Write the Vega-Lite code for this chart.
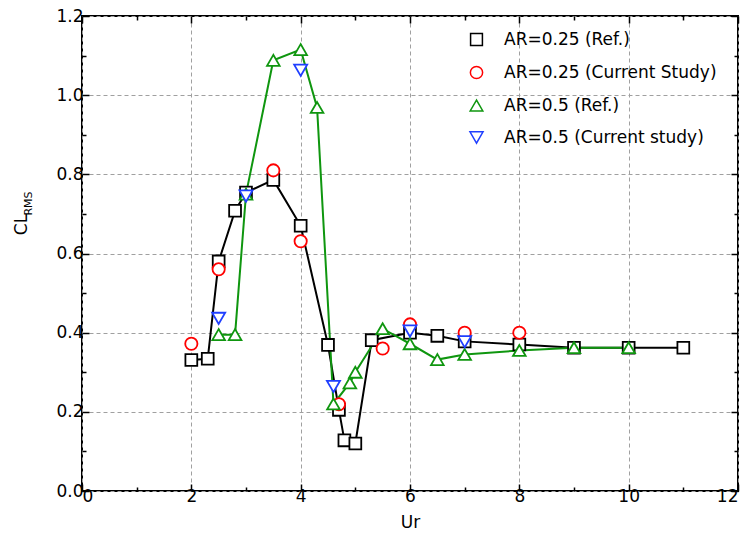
{
  "$schema": "https://vega.github.io/schema/vega-lite/v6.json",
  "width": 656,
  "height": 475,
  "autosize": {"type": "none"},
  "padding": {"left": 82, "top": 16, "right": 14, "bottom": 47},
  "background": "white",
  "config": {
    "font": "DejaVu Sans",
    "view": {"stroke": "black", "strokeWidth": 2},
    "axis": {"labelFont": "DejaVu Sans", "titleFont": "DejaVu Sans", "labelColor": "black", "titleColor": "black", "titleFontWeight": "normal", "domain": false, "tickColor": "black", "tickWidth": 1.5}
  },
  "title": {"text": "RMS", "orient": "left", "frame": "group", "anchor": "middle", "fontSize": 11, "fontWeight": "normal", "font": "DejaVu Sans", "color": "black", "offset": -22, "dx": 50},
  "data": {"values": [
    {"series": "AR=0.25 (Ref.)", "ur": 2.0, "cl": 0.331},
    {"series": "AR=0.25 (Ref.)", "ur": 2.3, "cl": 0.334},
    {"series": "AR=0.25 (Ref.)", "ur": 2.5, "cl": 0.58},
    {"series": "AR=0.25 (Ref.)", "ur": 2.8, "cl": 0.708},
    {"series": "AR=0.25 (Ref.)", "ur": 3.0, "cl": 0.754},
    {"series": "AR=0.25 (Ref.)", "ur": 3.5, "cl": 0.786},
    {"series": "AR=0.25 (Ref.)", "ur": 4.0, "cl": 0.67},
    {"series": "AR=0.25 (Ref.)", "ur": 4.5, "cl": 0.369},
    {"series": "AR=0.25 (Ref.)", "ur": 4.7, "cl": 0.205},
    {"series": "AR=0.25 (Ref.)", "ur": 4.8, "cl": 0.128},
    {"series": "AR=0.25 (Ref.)", "ur": 5.0, "cl": 0.12},
    {"series": "AR=0.25 (Ref.)", "ur": 5.3, "cl": 0.381},
    {"series": "AR=0.25 (Ref.)", "ur": 6.0, "cl": 0.4},
    {"series": "AR=0.25 (Ref.)", "ur": 6.5, "cl": 0.392},
    {"series": "AR=0.25 (Ref.)", "ur": 7.0, "cl": 0.378},
    {"series": "AR=0.25 (Ref.)", "ur": 8.0, "cl": 0.37},
    {"series": "AR=0.25 (Ref.)", "ur": 9.0, "cl": 0.362},
    {"series": "AR=0.25 (Ref.)", "ur": 10.0, "cl": 0.362},
    {"series": "AR=0.25 (Ref.)", "ur": 11.0, "cl": 0.362},
    {"series": "AR=0.25 (Current Study)", "ur": 2.0, "cl": 0.372},
    {"series": "AR=0.25 (Current Study)", "ur": 2.5, "cl": 0.56},
    {"series": "AR=0.25 (Current Study)", "ur": 3.5, "cl": 0.81},
    {"series": "AR=0.25 (Current Study)", "ur": 4.0, "cl": 0.631},
    {"series": "AR=0.25 (Current Study)", "ur": 4.7, "cl": 0.219},
    {"series": "AR=0.25 (Current Study)", "ur": 5.5, "cl": 0.36},
    {"series": "AR=0.25 (Current Study)", "ur": 6.0, "cl": 0.421},
    {"series": "AR=0.25 (Current Study)", "ur": 7.0, "cl": 0.4},
    {"series": "AR=0.25 (Current Study)", "ur": 8.0, "cl": 0.4},
    {"series": "AR=0.5 (Ref.)", "ur": 2.5, "cl": 0.395},
    {"series": "AR=0.5 (Ref.)", "ur": 2.8, "cl": 0.395},
    {"series": "AR=0.5 (Ref.)", "ur": 3.0, "cl": 0.75},
    {"series": "AR=0.5 (Ref.)", "ur": 3.5, "cl": 1.088},
    {"series": "AR=0.5 (Ref.)", "ur": 4.0, "cl": 1.115},
    {"series": "AR=0.5 (Ref.)", "ur": 4.3, "cl": 0.969},
    {"series": "AR=0.5 (Ref.)", "ur": 4.6, "cl": 0.22},
    {"series": "AR=0.5 (Ref.)", "ur": 4.9, "cl": 0.273},
    {"series": "AR=0.5 (Ref.)", "ur": 5.0, "cl": 0.3},
    {"series": "AR=0.5 (Ref.)", "ur": 5.5, "cl": 0.41},
    {"series": "AR=0.5 (Ref.)", "ur": 6.0, "cl": 0.372},
    {"series": "AR=0.5 (Ref.)", "ur": 6.5, "cl": 0.332},
    {"series": "AR=0.5 (Ref.)", "ur": 7.0, "cl": 0.345},
    {"series": "AR=0.5 (Ref.)", "ur": 8.0, "cl": 0.355},
    {"series": "AR=0.5 (Ref.)", "ur": 9.0, "cl": 0.362},
    {"series": "AR=0.5 (Ref.)", "ur": 10.0, "cl": 0.362},
    {"series": "AR=0.5 (Current study)", "ur": 2.5, "cl": 0.436},
    {"series": "AR=0.5 (Current study)", "ur": 3.0, "cl": 0.745},
    {"series": "AR=0.5 (Current study)", "ur": 4.0, "cl": 1.063},
    {"series": "AR=0.5 (Current study)", "ur": 4.6, "cl": 0.264},
    {"series": "AR=0.5 (Current study)", "ur": 6.0, "cl": 0.404},
    {"series": "AR=0.5 (Current study)", "ur": 7.0, "cl": 0.377}
  ]},
  "layer": [
    {
      "layer": [
        {
          "transform": [{"filter": "indexof(datum.series, 'Ref.') >= 0"}],
          "mark": {"type": "line", "strokeWidth": 2},
          "encoding": {
            "detail": {"field": "series"},
            "color": {"field": "series", "type": "nominal"}
          }
        },
        {
          "mark": {"type": "point", "fill": "white", "fillOpacity": 1, "strokeWidth": 1.8, "opacity": 1},
          "encoding": {
            "shape": {"field": "series", "type": "nominal", "legend": null,
              "scale": {"domain": ["AR=0.25 (Ref.)", "AR=0.25 (Current Study)", "AR=0.5 (Ref.)", "AR=0.5 (Current study)"], "range": ["square", "circle", "triangle-up", "triangle-down"]}},
            "size": {"field": "series", "type": "nominal", "legend": null,
              "scale": {"domain": ["AR=0.25 (Ref.)", "AR=0.25 (Current Study)", "AR=0.5 (Ref.)", "AR=0.5 (Current study)"], "range": [140, 170, 260, 270]}},
            "color": {"field": "series", "type": "nominal",
              "scale": {"domain": ["AR=0.25 (Ref.)", "AR=0.25 (Current Study)", "AR=0.5 (Ref.)", "AR=0.5 (Current study)"], "range": ["#000000", "#ff0000", "#0f960f", "#1f3fff"]},
              "legend": {
                "title": null, "orient": "none", "legendX": 386, "legendY": 15, "padding": 0,
                "symbolSize": 144, "labelOffset": 19, "labelFontSize": 17, "labelFont": "DejaVu Sans", "labelColor": "black",
                "rowPadding": 14, "labelLimit": 400,
                "encode": {"symbols": {
                  "shape": {"value": {"expr": "datum.value === 'AR=0.25 (Ref.)' ? 'M-4,0H-1M1,0H4M-1,-1H1V1H-1Z' : datum.value === 'AR=0.5 (Ref.)' ? 'M-2.93,0H-0.5M0.5,0H2.93M0,-0.866L1,0.866H-1Z' : datum.value === 'AR=0.25 (Current Study)' ? 'circle' : 'triangle-down'"}},
                  "size": {"value": {"expr": "datum.value === 'AR=0.25 (Ref.)' ? 144 : datum.value === 'AR=0.25 (Current Study)' ? 160 : 270"}},
                  "strokeWidth": {"value": 2},
                  "fill": {"value": "white"},
                  "fillOpacity": {"value": 1},
                  "opacity": {"value": 1}
                }}
              }}
          }
        }
      ],
      "encoding": {
        "x": {"field": "ur", "type": "quantitative",
          "scale": {"domain": [0, 12], "nice": false, "zero": false},
          "axis": {"title": "Ur", "values": [0,1,2,3,4,5,6,7,8,9,10,11,12],
            "labelExpr": "datum.value % 2 == 0 ? datum.label : ''",
            "labelFontSize": 17, "titleFontSize": 17, "labelPadding": 4, "titlePadding": 4,
            "titleY": 31, "titleBaseline": "middle",
            "grid": true, "gridDash": [4, 3], "gridColor": "#a0a0a0", "gridWidth": 1,
            "gridOpacity": {"condition": {"test": "datum.value % 2 == 1", "value": 0}, "value": 1},
            "tickSize": {"condition": {"test": "datum.value % 2 == 1", "value": -4}, "value": -7}}},
        "y": {"field": "cl", "type": "quantitative",
          "scale": {"domain": [0, 1.2], "nice": false, "zero": false},
          "axis": {"title": "CL", "values": [0,0.1,0.2,0.3,0.4,0.5,0.6,0.7,0.8,0.9,1.0,1.1,1.2],
            "labelExpr": "round(datum.value*10) % 2 == 0 ? format(datum.value, '.1f') : ''",
            "labelFontSize": 17, "titleFontSize": 17, "labelPadding": 6,
            "titleX": -61, "titleY": 208, "titleBaseline": "middle", "titleAngle": -90,
            "grid": true, "gridDash": [4, 3], "gridColor": "#a0a0a0", "gridWidth": 1,
            "gridOpacity": {"condition": {"test": "round(datum.value*10) % 2 == 1", "value": 0}, "value": 1},
            "tickSize": {"condition": {"test": "round(datum.value*10) % 2 == 1", "value": -4}, "value": -7}}}
      }
    },
    {
      "mark": {"type": "point", "opacity": 0},
      "encoding": {
        "x": {"field": "ur", "type": "quantitative",
          "axis": {"orient": "top", "title": null, "labels": false, "grid": false, "values": [0,1,2,3,4,5,6,7,8,9,10,11,12],
            "tickSize": {"condition": {"test": "datum.value % 2 == 1", "value": -4}, "value": -7}}},
        "y": {"field": "cl", "type": "quantitative",
          "axis": {"orient": "right", "title": null, "labels": false, "grid": false, "values": [0,0.1,0.2,0.3,0.4,0.5,0.6,0.7,0.8,0.9,1.0,1.1,1.2],
            "tickSize": {"condition": {"test": "round(datum.value*10) % 2 == 1", "value": -4}, "value": -7}}}
      }
    }
  ],
  "resolve": {"axis": {"x": "independent", "y": "independent"}}
}
